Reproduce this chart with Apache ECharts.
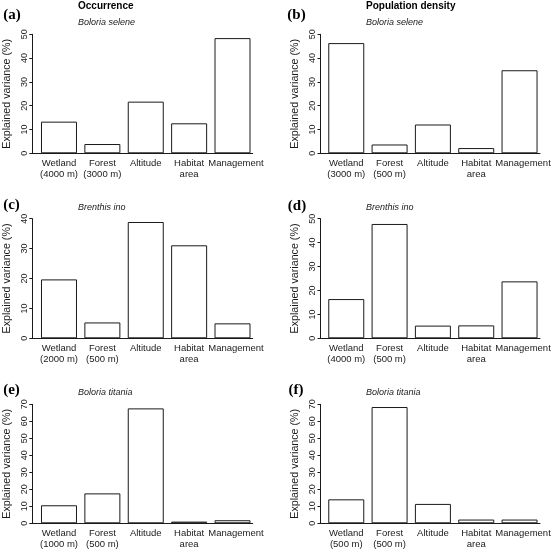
<!DOCTYPE html>
<html><head><meta charset="utf-8">
<script src="https://cdn.jsdelivr.net/npm/echarts@6/dist/echarts.min.js"></script>
<style>html,body{margin:0;padding:0;background:#fff}#c{width:553px;height:551px}</style>
</head><body><div id="c"></div>
<script>
// ---- data ----
const catsA = ['Wetland\n(4000 m)', 'Forest\n(3000 m)', 'Altitude', 'Habitat\narea', 'Management'];
const catsB = ['Wetland\n(3000 m)', 'Forest\n(500 m)', 'Altitude', 'Habitat\narea', 'Management'];
const catsC = ['Wetland\n(2000 m)', 'Forest\n(500 m)', 'Altitude', 'Habitat\narea', 'Management'];
const catsD = ['Wetland\n(4000 m)', 'Forest\n(500 m)', 'Altitude', 'Habitat\narea', 'Management'];
const catsE = ['Wetland\n(1000 m)', 'Forest\n(500 m)', 'Altitude', 'Habitat\narea', 'Management'];
const catsF = ['Wetland\n(500 m)', 'Forest\n(500 m)', 'Altitude', 'Habitat\narea', 'Management'];

const valsA = [13.3, 3.9, 21.7, 12.6, 48.4];
const valsB = [46.3, 3.7, 12.1, 2.2, 34.9];
const valsC = [19.7, 5.3, 38.9, 31.1, 5.0];
const valsD = [16.4, 47.8, 5.3, 5.4, 23.8];
const valsE = [10.6, 17.6, 67.6, 1.0, 1.8];
const valsF = [14.1, 68.4, 11.4, 2.2, 2.2];

const yMaxes = [50, 50, 40, 50, 70, 70];
const panelLetters = ['(a)', '(b)', '(c)', '(d)', '(e)', '(f)'];
const species = ['Boloria selene', 'Boloria selene', 'Brenthis ino', 'Brenthis ino', 'Boloria titania', 'Boloria titania'];
const columnTitles = ['Occurrence', 'Population density'];
const yTitle = 'Explained variance (%)';

// ---- layout ----
const cats = [catsA, catsB, catsC, catsD, catsE, catsF];
const vals = [valsA, valsB, valsC, valsD, valsE, valsF];
const rowTop = [34.3, 218.7, 404.3];
const rowH = [119, 119.6, 119];
const frameL = [32.3, 320.5], frameW = [220.4, 219.5];
const barL = [37.3, 324.6], barW = [216.9, 216.6];
const letterPos = [[12, 15.5], [296.5, 15.5], [11.5, 205], [297, 206.5], [11.5, 390], [296, 390]];
const speciesPos = [[78, 22.3], [366, 22.3], [78, 207.7], [366, 207.7], [78, 392.3], [366, 392.3]];

const INK = '#1a1a1a';
const FONT = '"Liberation Sans", Arial, sans-serif';

const grid = [], xAxis = [], yAxis = [], series = [], graphic = [];
for (let p = 0; p < 6; p++) {
  const col = p % 2, row = Math.floor(p / 2);
  grid.push({left: frameL[col], top: rowTop[row], width: frameW[col], height: rowH[row], containLabel: false, outerBoundsMode: 'none'});
  grid.push({left: barL[col], top: rowTop[row], width: barW[col], height: rowH[row], containLabel: false, outerBoundsMode: 'none'});
  const gF = 2 * p, gB = 2 * p + 1;
  xAxis.push({type: 'value', gridIndex: gF, min: 0, max: 1,
    axisLine: {show: true, lineStyle: {color: INK, width: 1}},
    axisTick: {show: false}, axisLabel: {show: false}, splitLine: {show: false}});
  yAxis.push({type: 'value', gridIndex: gF, min: 0, max: yMaxes[p], interval: 10,
    axisLine: {show: true, lineStyle: {color: INK, width: 1}},
    axisTick: {show: true, inside: false, length: 3, lineStyle: {color: INK}},
    axisLabel: {show: true, rotate: 90, margin: 3, fontSize: 9, color: INK, fontFamily: FONT},
    splitLine: {show: false},
    name: yTitle, nameLocation: 'middle', nameRotate: 90, nameGap: 20,
    nameTextStyle: {fontSize: 10.7, color: INK, fontFamily: FONT}});
  xAxis.push({type: 'category', gridIndex: gB, data: cats[p], boundaryGap: true,
    axisLine: {show: false}, axisTick: {show: false},
    axisLabel: {show: true, interval: 0, margin: 4, fontSize: 9.5, lineHeight: 11.3, color: INK, fontFamily: FONT,
      formatter: (v) => v === 'Management' ? '{m|' + v + '}' : v,
      rich: {m: {fontSize: 9.5, lineHeight: 11.3, color: INK, fontFamily: FONT, padding: [0, 0, 0, 7]}}}});
  yAxis.push({type: 'value', gridIndex: gB, min: 0, max: yMaxes[p], interval: 10,
    axisLine: {show: false}, axisTick: {show: false}, axisLabel: {show: false}, splitLine: {show: false}});
  series.push({type: 'bar', xAxisIndex: 2 * p + 1, yAxisIndex: 2 * p + 1, data: vals[p], barWidth: 36,
    itemStyle: {color: '#fff', borderColor: INK, borderWidth: 1}, silent: true, animation: false});

  graphic.push({type: 'text', x: letterPos[p][0], y: letterPos[p][1],
    style: {text: panelLetters[p], font: 'bold 15px "Liberation Serif", "Times New Roman", serif', fill: '#000', textAlign: 'center', textVerticalAlign: 'middle'}});
  graphic.push({type: 'text', x: speciesPos[p][0], y: speciesPos[p][1],
    style: {text: species[p], font: 'italic 9px ' + FONT, fill: INK, textAlign: 'left', textVerticalAlign: 'middle'}});
}
graphic.push({type: 'text', x: 78, y: 6, style: {text: columnTitles[0], font: 'bold 10px ' + FONT, fill: '#000', textAlign: 'left', textVerticalAlign: 'middle'}});
graphic.push({type: 'text', x: 366, y: 6, style: {text: columnTitles[1], font: 'bold 10px ' + FONT, fill: '#000', textAlign: 'left', textVerticalAlign: 'middle'}});

const chart = echarts.init(document.getElementById('c'), null, {renderer: 'canvas'});
chart.setOption({animation: false, backgroundColor: '#fff', grid, xAxis, yAxis, series, graphic});
</script>
</body></html>
